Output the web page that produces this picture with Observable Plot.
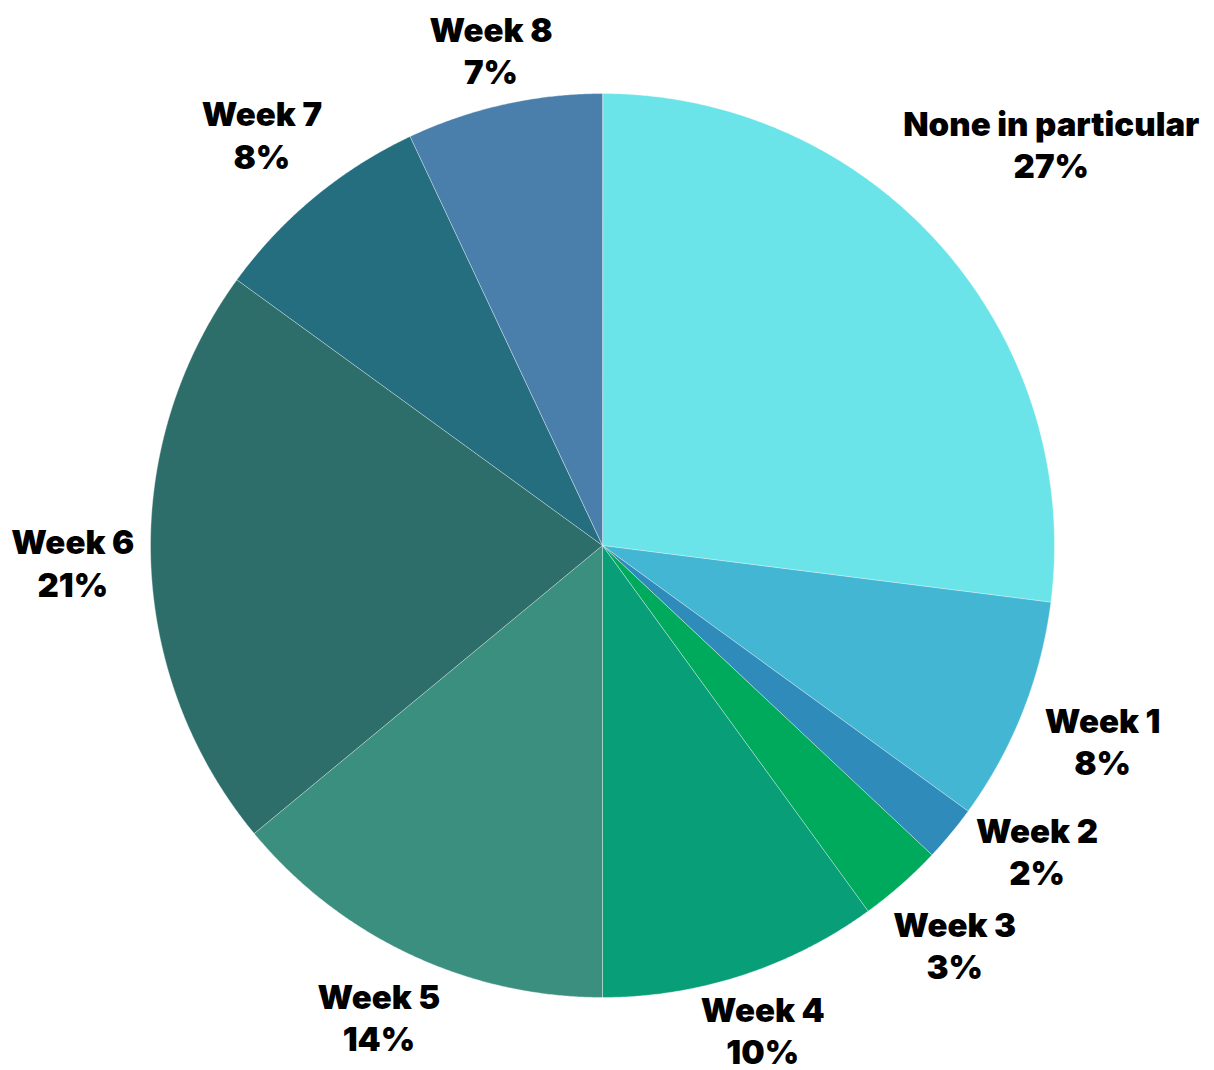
<!DOCTYPE html>
<html>
<head>
<meta charset="utf-8">
<script src="https://cdn.jsdelivr.net/npm/d3@7"></script>
<script src="https://cdn.jsdelivr.net/npm/@observablehq/plot@0.6"></script>
<style>
  html, body { margin: 0; padding: 0; background: #ffffff; }
  #chart svg { display: block; }
</style>
</head>
<body>
<div id="chart"></div>
<script>
const categories = ["None in particular", "Week 1", "Week 2", "Week 3", "Week 4", "Week 5", "Week 6", "Week 7", "Week 8"];
const shares = [27, 8, 2, 3, 10, 14, 21, 8, 7];
const percentLabels = ["27%", "8%", "2%", "3%", "10%", "14%", "21%", "8%", "7%"];
const sliceColors = ["#6ae4e8", "#43b6d4", "#2e8bba", "#00aa5d", "#089e77", "#3b8f7f", "#2d6e6b", "#246e80", "#4a7fac"];

// layout (pixels)
const W = 1214, H = 1070;
const CX = 602, CY = 545, R = 452;
const FONT_SIZE = 33, LINE_H = 1.28, FONT = "Inter";
const LABEL_R = 525;
const labelNudge = {
  "None in particular": [55, -55],
  "Week 1": [12, 2],
  "Week 2": [30, -30],
  "Week 3": [5, 5],
  "Week 4": [-2, -15],
  "Week 5": [0, -4],
  "Week 6": [-5, 0],
  "Week 7": [-6, -7],
  "Week 8": [3, 16]
};

const total = d3.sum(shares);
const poly = [];
const labels = [];
let cum = 0;

categories.forEach((cat, i) => {
  const a0 = cum / total * 2 * Math.PI;
  cum += shares[i];
  const a1 = cum / total * 2 * Math.PI;
  poly.push({cat, x: 0, y: 0});
  const n = Math.max(2, Math.ceil((a1 - a0) / (Math.PI / 720)));
  for (let k = 0; k <= n; k++) {
    const a = a0 + (a1 - a0) * k / n;
    poly.push({cat, x: Math.sin(a), y: -Math.cos(a)});
  }
  const am = (a0 + a1) / 2;
  const rr = LABEL_R / R;
  const nudge = labelNudge[cat] || [0, 0];
  labels.push({cat, text: cat + "\n" + percentLabels[i], x: Math.sin(am) * rr + nudge[0] / R, y: -Math.cos(am) * rr + nudge[1] / R});
});

const chart = Plot.plot({
  width: W,
  height: H,
  margin: 0,
  x: {domain: [-CX / R, (W - CX) / R], range: [0, W], axis: null},
  y: {domain: [-CY / R, (H - CY) / R], range: [0, H], axis: null},
  color: {domain: categories, range: sliceColors},
  style: {background: "#ffffff"},
  marks: [
    Plot.line(poly, {x: "x", y: "y", z: "cat", fill: "cat", stroke: "#ffffff", strokeOpacity: 0.55, strokeWidth: 0.7, curve: "linear-closed"}),
    Plot.text(labels, {x: "x", y: "y", text: "text", fontSize: FONT_SIZE, fontWeight: 900, fontFamily: FONT, lineHeight: LINE_H, fill: "#000000", textAnchor: "middle"})
  ]
});
document.getElementById("chart").appendChild(chart);
</script>
</body>
</html>
